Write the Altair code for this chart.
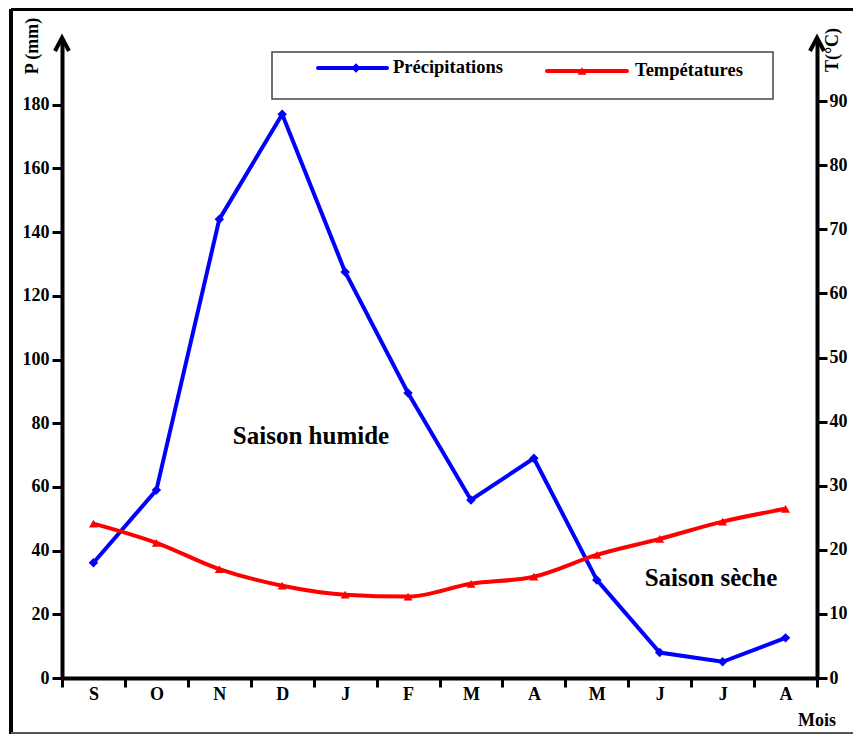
import altair as alt
import pandas as pd

# ---- data ----
mois = ["Septembre", "Octobre", "Novembre", "Décembre", "Janvier", "Février",
        "Mars", "Avril", "Mai", "Juin", "Juillet", "Août"]
precipitations = [36.2, 59.0, 144.0, 177.0, 127.5, 89.5, 55.9, 69.0, 30.8, 8.0, 5.1, 12.6]
temperatures = [24.1, 21.1, 17.0, 14.4, 13.0, 12.7, 14.7, 15.8, 19.2, 21.7, 24.4, 26.4]
p_ticks = [0, 20, 40, 60, 80, 100, 120, 140, 160, 180]
t_ticks = [0, 10, 20, 30, 40, 50, 60, 70, 80, 90]

df = pd.DataFrame({"mois": mois, "P": precipitations, "T": temperatures})

FONT = "Liberation Serif"
BLUE = "#0000FF"
RED = "#FF0000"

x_enc = alt.X(
    "mois:N", sort=mois, bandPosition=0.5,
    scale=alt.Scale(type="band", paddingInner=0, paddingOuter=0),
    axis=alt.Axis(title=None, labelExpr="substring(datum.label, 0, 1)", labelAngle=0,
                  tickBand="extent", tickSize=9, tickWidth=3, domainWidth=4,
                  labelFont=FONT, labelFontWeight="bold", labelFontSize=18,
                  labelColor="black", tickColor="black", domainColor="black",
                  labelPadding=-2, grid=False),
)

yP = alt.Y("P:Q", scale=alt.Scale(domain=[0, 200], nice=False, zero=True),
           axis=alt.Axis(orient="left", values=p_ticks, title=None, grid=False,
                         tickSize=10, tickWidth=3, domainWidth=4, labelPadding=3,
                         labelFont=FONT, labelFontWeight="bold", labelFontSize=18,
                         labelColor="black", tickColor="black", domainColor="black"))
yT = alt.Y("T:Q", scale=alt.Scale(domain=[0, 99.4], nice=False, zero=True),
           axis=alt.Axis(orient="right", values=t_ticks, title=None, grid=False,
                         tickSize=10, tickWidth=3, domainWidth=4, labelPadding=2,
                         labelFont=FONT, labelFontWeight="bold", labelFontSize=18,
                         labelColor="black", tickColor="black", domainColor="black"))

baseP = alt.Chart(df).encode(x=x_enc, y=yP)
p_layer = alt.layer(
    baseP.mark_line(color=BLUE, strokeWidth=4),
    baseP.mark_point(shape="diamond", filled=True, color=BLUE, size=90, opacity=1),
)

baseT = alt.Chart(df).encode(x=x_enc, y=yT)
t_layer = alt.layer(
    baseT.mark_line(color=RED, strokeWidth=4, interpolate="monotone"),
    baseT.mark_point(shape="triangle-up", filled=True, color=RED, size=80, opacity=1),
)

deco = alt.Chart(alt.Data(values=[{}]))

def txt(s, x, y, size=18, angle=0, align="center"):
    kw = dict(text=s, font=FONT, fontWeight="bold", fontSize=size, align=align,
              baseline="middle", color="black")
    if angle:
        kw["angle"] = angle
    return deco.mark_text(**kw).encode(x=alt.value(x), y=alt.value(y))

arrow_path = "M-1,1L0,-0.9L1,1"
decorations = [
    # frame
    deco.mark_rule(color="black", strokeWidth=4).encode(
        x=alt.value(-51), x2=alt.value(800), y=alt.value(-32)),
    deco.mark_rule(color="black", strokeWidth=4).encode(
        x=alt.value(-51), y=alt.value(-32), y2=alt.value(693)),
    deco.mark_rule(color="#555555", strokeWidth=2).encode(
        x=alt.value(-51), x2=alt.value(800), y=alt.value(692)),
    # axis arrows
    deco.mark_point(shape=arrow_path, filled=False, color="black", strokeWidth=4,
                    size=196, opacity=1).encode(x=alt.value(0), y=alt.value(3)),
    deco.mark_point(shape=arrow_path, filled=False, color="black", strokeWidth=4,
                    size=196, opacity=1).encode(x=alt.value(755), y=alt.value(3)),
    # legend box
    deco.mark_rect(fill="white", stroke="#444444", strokeWidth=1.5).encode(
        x=alt.value(210), x2=alt.value(711), y=alt.value(11), y2=alt.value(58)),
    deco.mark_rule(color=BLUE, strokeWidth=4, strokeCap="round").encode(
        x=alt.value(256), x2=alt.value(325), y=alt.value(27)),
    deco.mark_point(shape="diamond", filled=True, color=BLUE, size=90, opacity=1).encode(
        x=alt.value(294), y=alt.value(27)),
    txt("Précipitations", 331, 26, size=18.5, align="left"),
    deco.mark_rule(color=RED, strokeWidth=4, strokeCap="round").encode(
        x=alt.value(485), x2=alt.value(565), y=alt.value(30)),
    deco.mark_point(shape="triangle-up", filled=True, color=RED, size=80, opacity=1).encode(
        x=alt.value(520), y=alt.value(30)),
    txt("Tempétatures", 573, 29, size=18.5, align="left"),
    # annotations
    txt("Saison humide", 249, 395, size=25),
    txt("Saison sèche", 649, 537, size=25),
    txt("P (mm)", -29, 5, angle=270),
    txt("T(°C)", 771, 9, angle=270),
    txt("Mois", 755, 680),
]

chart = alt.layer(p_layer, t_layer, *decorations).resolve_scale(
    y="independent"
).properties(
    width=755, height=637,
    autosize=alt.AutoSizeParams(type="none"),
    padding={"left": 54, "top": 33, "right": 36, "bottom": 56},
    background="white",
).configure_view(stroke=None)

chart.save("out.html", embed_options={"renderer": "svg", "actions": False})
